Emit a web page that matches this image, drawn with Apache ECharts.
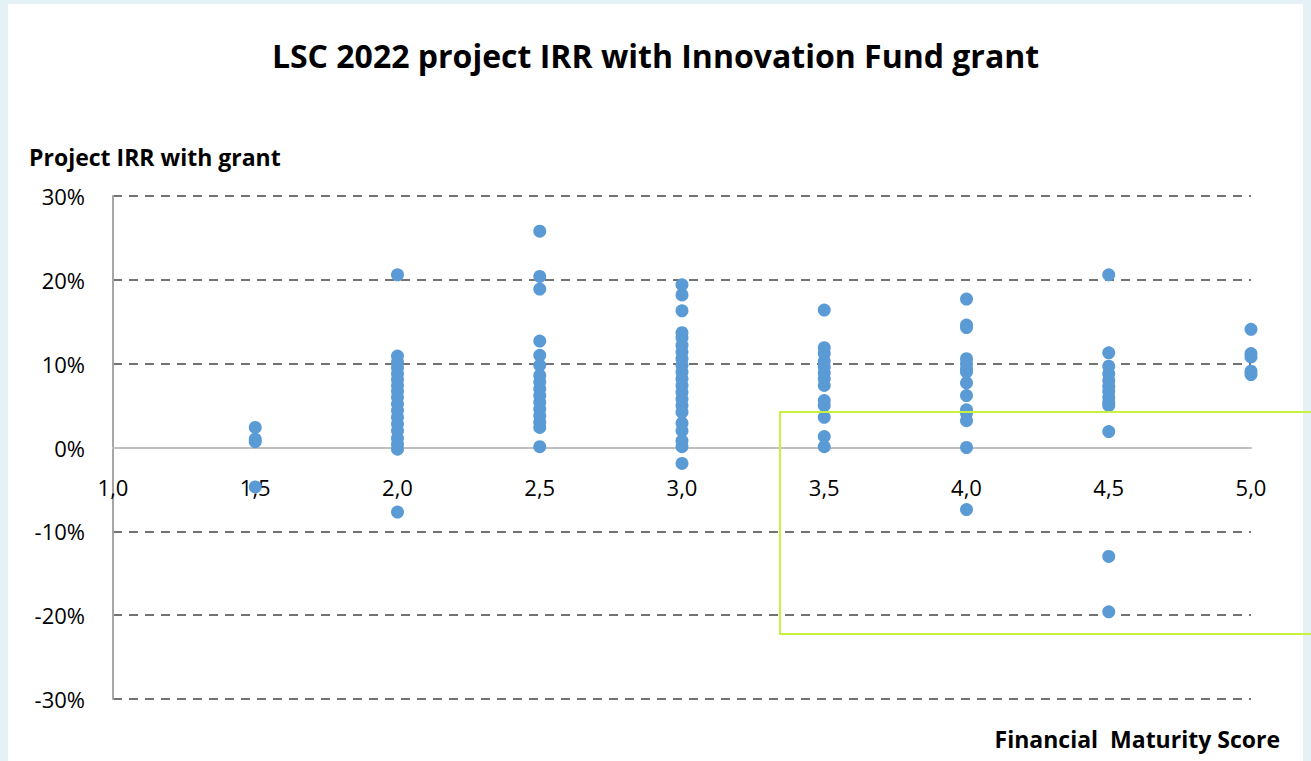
<!DOCTYPE html>
<html>
<head>
<meta charset="utf-8">
<title>LSC 2022 project IRR with Innovation Fund grant</title>
<script src="https://cdn.jsdelivr.net/npm/echarts@6/dist/echarts.min.js"></script>
<style>
  html, body { margin: 0; padding: 0; width: 1311px; height: 761px; overflow: hidden; background: #e4f2f8; }
  .sheet { position: absolute; left: 8px; top: 4px; width: 1295px; height: 760px; background: #fff; }
  #chart { position: absolute; left: 0; top: 0; width: 1311px; height: 761px; }
</style>
</head>
<body>
<div class="sheet"></div>
<div id="chart"></div>
<script>
// financial maturity scores (x) and project IRR with grant in % (y)
var scores = [1.5, 2.0, 2.5, 3.0, 3.5, 4.0, 4.5, 5.0];
var irr15 = [2.4, 1.0, 0.7, -4.7];
var irr20 = [20.6, 10.9, 10.2, 9.5, 8.8, 8.1, 7.4, 6.7, 6.0, 5.2, 4.4, 3.6, 2.8, 2.0, 1.1, 0.4, -0.2, -7.7];
var irr25 = [25.8, 20.4, 18.9, 12.7, 11.0, 9.8, 8.6, 7.8, 7.0, 6.2, 5.4, 4.6, 3.8, 3.0, 2.4, 0.1];
var irr30 = [19.4, 18.2, 16.3, 13.7, 13.1, 12.2, 11.4, 10.6, 9.8, 9.0, 8.2, 7.4, 6.6, 5.8, 5.0, 4.2, 2.9, 2.0, 0.8, 0.1, -1.9];
var irr35 = [16.4, 11.9, 11.2, 10.3, 9.6, 8.9, 8.2, 7.4, 5.6, 5.0, 3.6, 1.3, 0.1];
var irr40 = [17.7, 14.6, 14.3, 10.6, 10.0, 9.4, 9.0, 7.7, 6.2, 4.5, 4.1, 3.2, 0.0, -7.4];
var irr45 = [20.6, 11.3, 9.7, 8.8, 8.0, 7.3, 6.7, 6.0, 5.4, 5.0, 1.9, -13.0, -19.6];
var irr50 = [14.1, 11.2, 10.8, 9.1, 8.7];
var yTicks = [-30, -20, -10, 0, 10, 20, 30];

var columns = [irr15, irr20, irr25, irr30, irr35, irr40, irr45, irr50];
var points = [];
scores.forEach(function (s, i) {
    columns[i].forEach(function (v) { points.push([s, v]); });
});

var chart = echarts.init(document.getElementById('chart'), null, { renderer: 'svg' });
var font = '"Open Sans", Lato, sans-serif';
var gridTop = 196, gridBottom = 62;
var plotH = 761 - gridTop - gridBottom;
// the x axis sits on the 0% line, labels hang under it
var zeroOffset = -plotH * (0 - yTicks[0]) / (yTicks[yTicks.length - 1] - yTicks[0]);

chart.setOption({
    animation: false,
    backgroundColor: 'transparent',
    textStyle: { fontFamily: font },
    title: [
        { text: 'LSC 2022 project IRR with Innovation Fund grant', left: 'center', top: 34,
          textStyle: { fontSize: 32, fontWeight: 'bold', color: '#000', fontFamily: font } },
        { text: 'Project IRR with grant', left: 24, top: 140,
          textStyle: { fontSize: 23, fontWeight: 'bold', color: '#000', fontFamily: font } },
        { text: 'Financial  Maturity Score', right: 26, top: 722,
          textStyle: { fontSize: 23, fontWeight: 'bold', color: '#000', fontFamily: font } }
    ],
    grid: { left: 113, right: 60, top: gridTop, bottom: gridBottom, containLabel: false },
    xAxis: {
        type: 'value',
        min: 1, max: 5, interval: 0.5,
        position: 'bottom',
        offset: zeroOffset,
        axisLine: { onZero: false, lineStyle: { color: '#bfbfbf', width: 2 } },
        axisTick: { show: false },
        splitLine: { show: false },
        axisLabel: {
            margin: 28, fontSize: 22, color: '#000', fontFamily: font,
            formatter: function (v) { return v.toFixed(1).replace('.', ','); }
        }
    },
    yAxis: {
        type: 'value',
        min: yTicks[0], max: yTicks[yTicks.length - 1], interval: 10,
        axisLine: { show: true, onZero: false, lineStyle: { color: '#a6a6a6', width: 2 } },
        axisTick: { show: false },
        splitLine: { lineStyle: { color: '#737373', width: 2, type: [9, 7] } },
        axisLabel: {
            margin: 28, fontSize: 22, color: '#000', fontFamily: font,
            formatter: function (v) { return v + '%'; }
        }
    },
    graphic: [{
        type: 'rect',
        shape: { x: 780, y: 412, width: 560, height: 222 },
        style: { fill: 'none', stroke: '#c9f23f', lineWidth: 2 },
        z: 100
    }],
    series: [{
        type: 'scatter',
        data: points,
        symbolSize: 13,
        itemStyle: { color: '#5b9bd5', opacity: 1 },
        z: 10
    }]
});
</script>
</body>
</html>
